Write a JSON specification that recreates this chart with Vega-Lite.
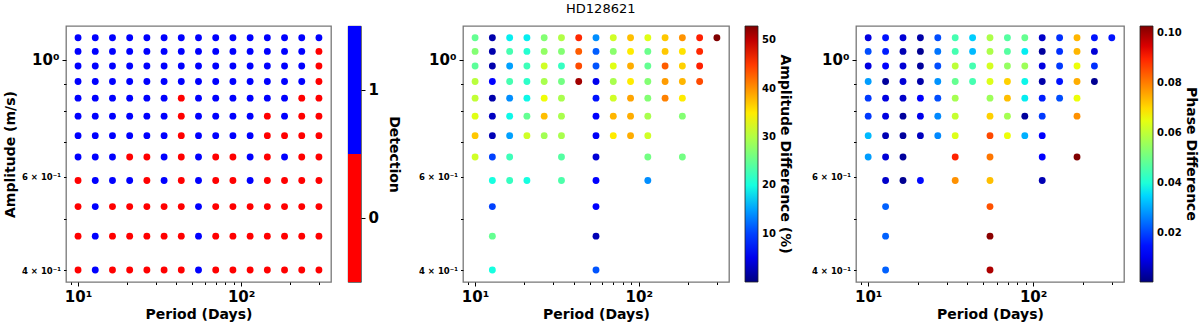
{
"$schema": "https://vega.github.io/schema/vega-lite/v6.json",
"padding": {"left": 2, "top": 3, "right": 0, "bottom": 0},
"title": {"text": "HD128621", "fontSize": 13, "fontWeight": "normal", "font": "DejaVu Sans", "color": "#000", "offset": 9, "anchor": "middle"},
"config": {
  "font": "DejaVu Sans",
  "view": {"stroke": "#777", "strokeWidth": 1.3},
  "axis": {"domain": false, "grid": false, "tickColor": "#000", "tickWidth": 1, "labelColor": "#000", "titleColor": "#000", "labelFont": "DejaVu Sans", "titleFont": "DejaVu Sans", "titleFontWeight": "bold", "titleFontSize": 14, "labelFontWeight": "bold", "labelOverlap": false, "labelFlush": false},
  "legend": {"labelFont": "DejaVu Sans", "titleFont": "DejaVu Sans", "labelColor": "#000", "titleColor": "#000", "titleLimit": 400}
},
"bounds": "flush",
"spacing": 17,
"datasets": {"g": [
{"P":10,"A":1.1,"D":1,"AD":25,"PD":0.009},
{"P":12.75,"A":1.1,"D":1,"AD":2,"PD":0.015},
{"P":16.26,"A":1.1,"D":1,"AD":19,"PD":0.008},
{"P":20.73,"A":1.1,"D":1,"AD":19,"PD":0.004},
{"P":26.43,"A":1.1,"D":1,"AD":27,"PD":0.021},
{"P":33.7,"A":1.1,"D":1,"AD":30,"PD":0.045},
{"P":42.96,"A":1.1,"D":1,"AD":46,"PD":0.034},
{"P":54.78,"A":1.1,"D":1,"AD":14,"PD":0.058},
{"P":69.85,"A":1.1,"D":1,"AD":32,"PD":0.047},
{"P":89.06,"A":1.1,"D":1,"AD":37.5,"PD":0.049},
{"P":113.55,"A":1.1,"D":1,"AD":33,"PD":0.007},
{"P":144.77,"A":1.1,"D":1,"AD":37,"PD":0.018},
{"P":184.59,"A":1.1,"D":1,"AD":40,"PD":0.074},
{"P":235.36,"A":1.1,"D":1,"AD":46.5,"PD":0.015},
{"P":300,"A":1.1,"D":1,"AD":53,"PD":0.015},
{"P":10,"A":1.0364,"D":1,"AD":27,"PD":0.021},
{"P":12.75,"A":1.0364,"D":1,"AD":2,"PD":0.016},
{"P":16.26,"A":1.0364,"D":1,"AD":23,"PD":0.005},
{"P":20.73,"A":1.0364,"D":1,"AD":21,"PD":0.002},
{"P":26.43,"A":1.0364,"D":1,"AD":28,"PD":0.025},
{"P":33.7,"A":1.0364,"D":1,"AD":27,"PD":0.045},
{"P":42.96,"A":1.0364,"D":1,"AD":43,"PD":0.032},
{"P":54.78,"A":1.0364,"D":1,"AD":11.5,"PD":0.058},
{"P":69.85,"A":1.0364,"D":1,"AD":27.5,"PD":0.047},
{"P":89.06,"A":1.0364,"D":1,"AD":35,"PD":0.037},
{"P":113.55,"A":1.0364,"D":1,"AD":25.5,"PD":0.003},
{"P":144.77,"A":1.0364,"D":1,"AD":37,"PD":0.018},
{"P":184.59,"A":1.0364,"D":1,"AD":35.5,"PD":0.074},
{"P":235.36,"A":1.0364,"D":1,"AD":46,"PD":0.008},
{"P":300,"A":1.0364,"D":0},
{"P":10,"A":0.9727,"D":1,"AD":24.5,"PD":0.009},
{"P":12.75,"A":0.9727,"D":1,"AD":2,"PD":0.013},
{"P":16.26,"A":0.9727,"D":1,"AD":15,"PD":0.008},
{"P":20.73,"A":0.9727,"D":1,"AD":22.5,"PD":0.003},
{"P":26.43,"A":0.9727,"D":1,"AD":32,"PD":0.021},
{"P":33.7,"A":0.9727,"D":1,"AD":22,"PD":0.06},
{"P":42.96,"A":0.9727,"D":1,"AD":44,"PD":0.045},
{"P":54.78,"A":0.9727,"D":1,"AD":11,"PD":0.063},
{"P":69.85,"A":0.9727,"D":1,"AD":33,"PD":0.055},
{"P":89.06,"A":0.9727,"D":1,"AD":38.5,"PD":0.056},
{"P":113.55,"A":0.9727,"D":1,"AD":25,"PD":0.009},
{"P":144.77,"A":0.9727,"D":1,"AD":43,"PD":0.019},
{"P":184.59,"A":0.9727,"D":1,"AD":36.5,"PD":0.066},
{"P":235.36,"A":0.9727,"D":1,"AD":46.5,"PD":0.018},
{"P":300,"A":0.9727,"D":0},
{"P":10,"A":0.9091,"D":1,"AD":30.5,"PD":0.029},
{"P":12.75,"A":0.9091,"D":1,"AD":6.5,"PD":0.003},
{"P":16.26,"A":0.9091,"D":1,"AD":23,"PD":0.008},
{"P":20.73,"A":0.9091,"D":1,"AD":21.5,"PD":0.004},
{"P":26.43,"A":0.9091,"D":1,"AD":29.5,"PD":0.028},
{"P":33.7,"A":0.9091,"D":1,"AD":26,"PD":0.049},
{"P":42.96,"A":0.9091,"D":1,"AD":51.5,"PD":0.045},
{"P":54.78,"A":0.9091,"D":1,"AD":5,"PD":0.064},
{"P":69.85,"A":0.9091,"D":1,"AD":29.5,"PD":0.071},
{"P":89.06,"A":0.9091,"D":1,"AD":35,"PD":0.038},
{"P":113.55,"A":0.9091,"D":1,"AD":27,"PD":0.004},
{"P":144.77,"A":0.9091,"D":1,"AD":39.5,"PD":0.015},
{"P":184.59,"A":0.9091,"D":1,"AD":38,"PD":0.075},
{"P":235.36,"A":0.9091,"D":1,"AD":44,"PD":0.002},
{"P":300,"A":0.9091,"D":0},
{"P":10,"A":0.8455,"D":1,"AD":31,"PD":0.019},
{"P":12.75,"A":0.8455,"D":1,"AD":2,"PD":0.009},
{"P":16.26,"A":0.8455,"D":1,"AD":14,"PD":0.007},
{"P":20.73,"A":0.8455,"D":1,"AD":19.5,"PD":0.012},
{"P":26.43,"A":0.8455,"D":1,"AD":34,"PD":0.021},
{"P":33.7,"A":0.8455,"D":1,"AD":29.5,"PD":0.057},
{"P":42.96,"A":0.8455,"D":0},
{"P":54.78,"A":0.8455,"D":1,"AD":7.5,"PD":0.056},
{"P":69.85,"A":0.8455,"D":1,"AD":32,"PD":0.073},
{"P":89.06,"A":0.8455,"D":1,"AD":39,"PD":0.037},
{"P":113.55,"A":0.8455,"D":1,"AD":27,"PD":0.016},
{"P":144.77,"A":0.8455,"D":1,"AD":41,"PD":0.021},
{"P":184.59,"A":0.8455,"D":1,"AD":35,"PD":0.066},
{"P":235.36,"A":0.8455,"D":0},
{"P":300,"A":0.8455,"D":0},
{"P":10,"A":0.7818,"D":1,"AD":33,"PD":0.019},
{"P":12.75,"A":0.7818,"D":1,"AD":3,"PD":0.009},
{"P":16.26,"A":0.7818,"D":1,"AD":19.5,"PD":0.003},
{"P":20.73,"A":0.7818,"D":1,"AD":25,"PD":0.01},
{"P":26.43,"A":0.7818,"D":1,"AD":37.5,"PD":0.027},
{"P":33.7,"A":0.7818,"D":1,"AD":29.5,"PD":0.061},
{"P":42.96,"A":0.7818,"D":0},
{"P":54.78,"A":0.7818,"D":1,"AD":6,"PD":0.071},
{"P":69.85,"A":0.7818,"D":1,"AD":38,"PD":0.057},
{"P":89.06,"A":0.7818,"D":1,"AD":38.5,"PD":0.003},
{"P":113.55,"A":0.7818,"D":1,"AD":29.5,"PD":0.019},
{"P":144.77,"A":0.7818,"D":0},
{"P":184.59,"A":0.7818,"D":1,"AD":27,"PD":0.078},
{"P":235.36,"A":0.7818,"D":0},
{"P":300,"A":0.7818,"D":0},
{"P":10,"A":0.7182,"D":1,"AD":37,"PD":0.032},
{"P":12.75,"A":0.7182,"D":1,"AD":2.5,"PD":0.005},
{"P":16.26,"A":0.7182,"D":1,"AD":15,"PD":0.003},
{"P":20.73,"A":0.7182,"D":1,"AD":32,"PD":0.006},
{"P":26.43,"A":0.7182,"D":1,"AD":29,"PD":0.027},
{"P":33.7,"A":0.7182,"D":1,"AD":29.5,"PD":0.064},
{"P":42.96,"A":0.7182,"D":0},
{"P":54.78,"A":0.7182,"D":1,"AD":5.5,"PD":0.086},
{"P":69.85,"A":0.7182,"D":1,"AD":35,"PD":0.066},
{"P":89.06,"A":0.7182,"D":1,"AD":38.5,"PD":0.031},
{"P":113.55,"A":0.7182,"D":1,"AD":32,"PD":0.012},
{"P":144.77,"A":0.7182,"D":0},
{"P":184.59,"A":0.7182,"D":0},
{"P":235.36,"A":0.7182,"D":0},
{"P":300,"A":0.7182,"D":0},
{"P":10,"A":0.6545,"D":1,"AD":32,"PD":0.029},
{"P":12.75,"A":0.6545,"D":1,"AD":10,"PD":0.008},
{"P":16.26,"A":0.6545,"D":1,"AD":22.5,"PD":0.003},
{"P":20.73,"A":0.6545,"D":0},
{"P":26.43,"A":0.6545,"D":0},
{"P":33.7,"A":0.6545,"D":1,"AD":24,"PD":0.09},
{"P":42.96,"A":0.6545,"D":0},
{"P":54.78,"A":0.6545,"D":1,"AD":4,"PD":0.081},
{"P":69.85,"A":0.6545,"D":0},
{"P":89.06,"A":0.6545,"D":0},
{"P":113.55,"A":0.6545,"D":1,"AD":26,"PD":0.013},
{"P":144.77,"A":0.6545,"D":0},
{"P":184.59,"A":0.6545,"D":1,"AD":26,"PD":0.103},
{"P":235.36,"A":0.6545,"D":0},
{"P":300,"A":0.6545,"D":0},
{"P":10,"A":0.5909,"D":0},
{"P":12.75,"A":0.5909,"D":1,"AD":20,"PD":0.007},
{"P":16.26,"A":0.5909,"D":1,"AD":22,"PD":0.002},
{"P":20.73,"A":0.5909,"D":1,"AD":20,"PD":0.014},
{"P":26.43,"A":0.5909,"D":0},
{"P":33.7,"A":0.5909,"D":1,"AD":23.5,"PD":0.078},
{"P":42.96,"A":0.5909,"D":0},
{"P":54.78,"A":0.5909,"D":1,"AD":6.5,"PD":0.073},
{"P":69.85,"A":0.5909,"D":0},
{"P":89.06,"A":0.5909,"D":0},
{"P":113.55,"A":0.5909,"D":1,"AD":14,"PD":0.005},
{"P":144.77,"A":0.5909,"D":0},
{"P":184.59,"A":0.5909,"D":0},
{"P":235.36,"A":0.5909,"D":0},
{"P":300,"A":0.5909,"D":0},
{"P":10,"A":0.5273,"D":0},
{"P":12.75,"A":0.5273,"D":1,"AD":10,"PD":0.023},
{"P":16.26,"A":0.5273,"D":0},
{"P":20.73,"A":0.5273,"D":0},
{"P":26.43,"A":0.5273,"D":0},
{"P":33.7,"A":0.5273,"D":0},
{"P":42.96,"A":0.5273,"D":0},
{"P":54.78,"A":0.5273,"D":1,"AD":6,"PD":0.085},
{"P":69.85,"A":0.5273,"D":0},
{"P":89.06,"A":0.5273,"D":0},
{"P":113.55,"A":0.5273,"D":0},
{"P":144.77,"A":0.5273,"D":0},
{"P":184.59,"A":0.5273,"D":0},
{"P":235.36,"A":0.5273,"D":0},
{"P":300,"A":0.5273,"D":0},
{"P":10,"A":0.4636,"D":0},
{"P":12.75,"A":0.4636,"D":1,"AD":25,"PD":0.023},
{"P":16.26,"A":0.4636,"D":0},
{"P":20.73,"A":0.4636,"D":0},
{"P":26.43,"A":0.4636,"D":0},
{"P":33.7,"A":0.4636,"D":0},
{"P":42.96,"A":0.4636,"D":0},
{"P":54.78,"A":0.4636,"D":1,"AD":2.5,"PD":0.102},
{"P":69.85,"A":0.4636,"D":0},
{"P":89.06,"A":0.4636,"D":0},
{"P":113.55,"A":0.4636,"D":0},
{"P":144.77,"A":0.4636,"D":0},
{"P":184.59,"A":0.4636,"D":0},
{"P":235.36,"A":0.4636,"D":0},
{"P":300,"A":0.4636,"D":0},
{"P":10,"A":0.4,"D":0},
{"P":12.75,"A":0.4,"D":1,"AD":20,"PD":0.023},
{"P":16.26,"A":0.4,"D":0},
{"P":20.73,"A":0.4,"D":0},
{"P":26.43,"A":0.4,"D":0},
{"P":33.7,"A":0.4,"D":0},
{"P":42.96,"A":0.4,"D":0},
{"P":54.78,"A":0.4,"D":1,"AD":11,"PD":0.099},
{"P":69.85,"A":0.4,"D":0},
{"P":89.06,"A":0.4,"D":0},
{"P":113.55,"A":0.4,"D":0},
{"P":144.77,"A":0.4,"D":0},
{"P":184.59,"A":0.4,"D":0},
{"P":235.36,"A":0.4,"D":0},
{"P":300,"A":0.4,"D":0}
]},
"hconcat": [
{
  "width": 265, "height": 256,
  "data": {"name": "g"},
  "mark": {"type": "circle", "size": 47, "opacity": 1},
  "encoding": {
    "x": {"field": "P", "type": "quantitative", "scale": {"type": "log", "domain": [8.436, 355.7], "nice": false, "zero": false},
      "axis": {"title": "Period (Days)", "values": [9,10,20,30,40,50,60,70,80,90,100,200,300], "labelExpr": "datum.value == 10 ? '10¹' : datum.value == 100 ? '10²' : ''", "tickSize": {"condition": {"test": "datum.value == 10 || datum.value == 100", "value": 4}, "value": 2.5}, "labelFontSize": 15, "labelPadding": 3, "titlePadding": 3}},
    "y": {"field": "A", "type": "quantitative", "scale": {"type": "log", "domain": [0.3797, 1.1578], "nice": false, "zero": false},
      "axis": {"title": "Amplitude (m/s)", "values": [0.4,0.5,0.6,0.7,0.8,0.9,1], "labelExpr": "datum.value == 1 ? '10⁰' : datum.value == 0.4 ? '4 × 10⁻¹' : datum.value == 0.6 ? '6 × 10⁻¹' : ''", "labelFontSize": {"condition": {"test": "datum.value == 1", "value": 15}, "value": 8.5}, "tickSize": {"condition": {"test": "datum.value == 1", "value": 4}, "value": 2.5}, "labelPadding": 3, "titlePadding": 4}},
    "color": {"field": "D", "type": "nominal", "scale": {"domain": [0, 1], "range": ["#ff0000", "#0000ff"]}, "legend": null}
  }
},
{
  "width": 13, "height": 256,
  "view": {"stroke": "#222", "strokeWidth": 0.8},
  "data": {"name": "g"},
  "transform": [{"aggregate": [{"op": "count", "as": "n"}], "groupby": ["D"]}],
  "mark": {"type": "rect"},
  "encoding": {
    "y": {"field": "D", "type": "ordinal", "sort": "descending", "scale": {"paddingInner": 0, "paddingOuter": 0},
      "axis": {"orient": "right", "title": "Detection", "labelFontSize": 15, "labelAngle": 0, "tickSize": 4, "labelPadding": 3, "titlePadding": 8, "titleFontSize": 14}},
    "color": {"field": "D", "type": "nominal", "scale": {"domain": [0, 1], "range": ["#ff0000", "#0000ff"]}, "legend": null}
  }
},
{
  "width": 68, "height": 256,
  "view": {"stroke": null},
  "data": {"values": []},
  "mark": "point",
  "encoding": {}
},
{
  "width": 266, "height": 256,
  "data": {"name": "g"},
  "transform": [{"filter": "datum.D == 1"}],
  "mark": {"type": "circle", "size": 47, "opacity": 1},
  "encoding": {
    "x": {"field": "P", "type": "quantitative", "scale": {"type": "log", "domain": [8.436, 355.7], "nice": false, "zero": false},
      "axis": {"title": "Period (Days)", "values": [9,10,20,30,40,50,60,70,80,90,100,200,300], "labelExpr": "datum.value == 10 ? '10¹' : datum.value == 100 ? '10²' : ''", "tickSize": {"condition": {"test": "datum.value == 10 || datum.value == 100", "value": 4}, "value": 2.5}, "labelFontSize": 15, "labelPadding": 3, "titlePadding": 3}},
    "y": {"field": "A", "type": "quantitative", "scale": {"type": "log", "domain": [0.3797, 1.1578], "nice": false, "zero": false},
      "axis": {"title": null, "values": [0.4,0.5,0.6,0.7,0.8,0.9,1], "labelExpr": "datum.value == 1 ? '10⁰' : datum.value == 0.4 ? '4 × 10⁻¹' : datum.value == 0.6 ? '6 × 10⁻¹' : ''", "labelFontSize": {"condition": {"test": "datum.value == 1", "value": 15}, "value": 8.5}, "tickSize": {"condition": {"test": "datum.value == 1", "value": 4}, "value": 2.5}, "labelPadding": 3}},
    "color": {"field": "AD", "type": "quantitative",
      "scale": {"type": "linear", "interpolate": "rgb", "domain": [0, 5.83, 6.625, 18.02, 18.55, 19.875, 33.92, 34.45, 34.98, 47.17, 48.23, 53], "range": ["#000080", "#0000ff", "#0000ff", "#00dbff", "#00e6f7", "#14ffe2", "#eeff08", "#f7f600", "#ffec00", "#ff1300", "#e80000", "#800000"]},
      "legend": {"title": "Amplitude Difference (%)", "orient": "right", "offset": 16, "padding": 0, "direction": "vertical", "gradientLength": 256, "gradientThickness": 13, "gradientStrokeColor": "#222", "gradientStrokeWidth": 0.8, "values": [10, 20, 30, 40, 50], "labelFontSize": 10, "labelFontWeight": "bold", "labelOffset": 4, "titleOrient": "right", "titleAngle": 90, "titleAnchor": "middle", "titleFontSize": 14, "titleFontWeight": "bold", "titlePadding": 2, "titleLimit": 400}}
  }
},
{
  "width": 93, "height": 256,
  "view": {"stroke": null},
  "data": {"values": []},
  "mark": "point",
  "encoding": {}
},
{
  "width": 268, "height": 256,
  "data": {"name": "g"},
  "transform": [{"filter": "datum.D == 1"}],
  "mark": {"type": "circle", "size": 47, "opacity": 1},
  "encoding": {
    "x": {"field": "P", "type": "quantitative", "scale": {"type": "log", "domain": [8.436, 355.7], "nice": false, "zero": false},
      "axis": {"title": "Period (Days)", "values": [9,10,20,30,40,50,60,70,80,90,100,200,300], "labelExpr": "datum.value == 10 ? '10¹' : datum.value == 100 ? '10²' : ''", "tickSize": {"condition": {"test": "datum.value == 10 || datum.value == 100", "value": 4}, "value": 2.5}, "labelFontSize": 15, "labelPadding": 3, "titlePadding": 3}},
    "y": {"field": "A", "type": "quantitative", "scale": {"type": "log", "domain": [0.3797, 1.1578], "nice": false, "zero": false},
      "axis": {"title": null, "values": [0.4,0.5,0.6,0.7,0.8,0.9,1], "labelExpr": "datum.value == 1 ? '10⁰' : datum.value == 0.4 ? '4 × 10⁻¹' : datum.value == 0.6 ? '6 × 10⁻¹' : ''", "labelFontSize": {"condition": {"test": "datum.value == 1", "value": 15}, "value": 8.5}, "tickSize": {"condition": {"test": "datum.value == 1", "value": 4}, "value": 2.5}, "labelPadding": 3}},
    "color": {"field": "PD", "type": "quantitative",
      "scale": {"type": "linear", "interpolate": "rgb", "domain": [0.0004, 0.011686, 0.013225, 0.035284, 0.03631, 0.038875, 0.066064, 0.06709, 0.068116, 0.091714, 0.093766, 0.103], "range": ["#000080", "#0000ff", "#0000ff", "#00dbff", "#00e6f7", "#14ffe2", "#eeff08", "#f7f600", "#ffec00", "#ff1300", "#e80000", "#800000"]},
      "legend": {"title": "Phase Difference", "orient": "right", "offset": 16, "padding": 0, "direction": "vertical", "gradientLength": 256, "gradientThickness": 13, "gradientStrokeColor": "#222", "gradientStrokeWidth": 0.8, "values": [0.02, 0.04, 0.06, 0.08, 0.1], "format": ".2f", "labelFontSize": 10, "labelFontWeight": "bold", "labelOffset": 4, "titleOrient": "right", "titleAngle": 90, "titleAnchor": "middle", "titleFontSize": 14, "titleFontWeight": "bold", "titlePadding": 2, "titleLimit": 400}}
  }
}
]
}
